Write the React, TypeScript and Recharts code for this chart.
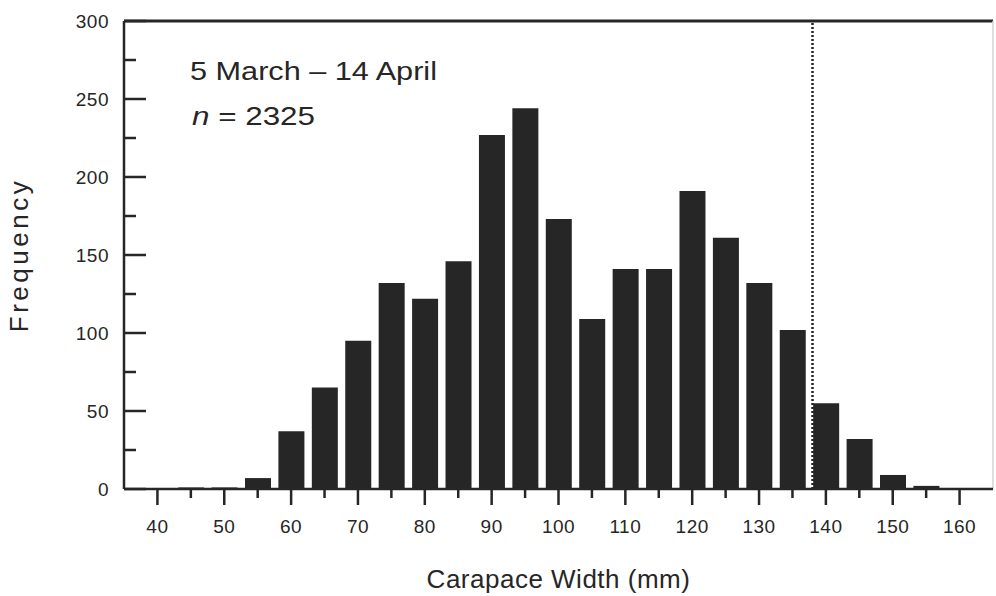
import React from 'react';
import { BarChart, Bar, XAxis, YAxis, ReferenceLine } from 'recharts';

document.body.style.margin = '0';

// carapace width bins (mm) and counts
const widths = [40, 45, 50, 55, 60, 65, 70, 75, 80, 85, 90, 95, 100, 105, 110, 115, 120, 125, 130, 135, 140, 145, 150, 155, 160];
const counts = [0, 1, 1, 7, 37, 65, 95, 132, 122, 146, 227, 244, 173, 109, 141, 141, 191, 161, 132, 102, 55, 32, 9, 2, 0];

const xTicks = [40, 45, 50, 55, 60, 65, 70, 75, 80, 85, 90, 95, 100, 105, 110, 115, 120, 125, 130, 135, 140, 145, 150, 155, 160];
const yTicks = [0, 25, 50, 75, 100, 125, 150, 175, 200, 225, 250, 275, 300];

const cutoff = 138;
const periodLabel = '5 March – 14 April';
const sampleSize = '2325';

const data = widths.map((w, i) => ({ w, count: counts[i] }));

const FONT = '"Liberation Sans", Arial, Helvetica, sans-serif';
const INK = '#262626';

const XTick = (props: any) => {
  const { x, y, payload } = props;
  const major = payload.value % 10 === 0;
  return (
    <g>
      <line x1={x} x2={x} y1={y} y2={y + (major ? 16 : 9)} stroke={INK} strokeWidth={2.5} />
      {major && (
        <text x={x} y={y + 44} textAnchor="middle" fontFamily={FONT} fontSize={19} letterSpacing={0.5} fill={INK}>
          {payload.value}
        </text>
      )}
    </g>
  );
};

const YTick = (props: any) => {
  const { x, y, payload } = props;
  const major = payload.value % 50 === 0;
  return (
    <g>
      <line x1={x} x2={x + (major ? 22 : 12)} y1={y} y2={y} stroke={INK} strokeWidth={2.5} />
      {major && (
        <text x={x - 15} y={y + 7} textAnchor="end" fontFamily={FONT} fontSize={19} letterSpacing={0.5} fill={INK}>
          {payload.value}
        </text>
      )}
    </g>
  );
};

export default function App() {
  return (
    <div style={{ position: 'relative', width: 996, height: 596, background: '#fff' }}>
      <BarChart width={996} height={596} data={data} margin={{ top: 21, right: 3, bottom: 0, left: 0 }}>
        <XAxis
          dataKey="w"
          type="number"
          domain={[35, 165]}
          ticks={xTicks}
          interval={0}
          height={107}
          tickSize={0}
          tickMargin={0}
          tick={<XTick />}
          axisLine={{ stroke: INK, strokeWidth: 2.5 }}
          label={{
            content: (p: any) => (
              <text
                x={p.viewBox.x + p.viewBox.width / 2}
                y={p.viewBox.y + 99}
                textAnchor="middle"
                fontFamily={FONT}
                fontSize={26}
                letterSpacing={0.5}
                fill={INK}
              >
                Carapace Width (mm)
              </text>
            ),
          }}
        />
        <YAxis
          type="number"
          domain={[0, 300]}
          ticks={yTicks}
          interval={0}
          width={124}
          tickSize={0}
          tickMargin={0}
          tick={<YTick />}
          axisLine={{ stroke: INK, strokeWidth: 2.5 }}
          label={{
            content: (p: any) => {
              const cx = p.viewBox.x + 28;
              const cy = p.viewBox.y + p.viewBox.height / 2;
              return (
                <text
                  x={cx}
                  y={cy}
                  transform={`rotate(-90 ${cx} ${cy})`}
                  textAnchor="middle"
                  fontFamily={FONT}
                  fontSize={26}
                  letterSpacing={3.5}
                  fill={INK}
                >
                  Frequency
                </text>
              );
            },
          }}
        />
        <ReferenceLine y={300} stroke={INK} strokeWidth={3} />
        <ReferenceLine x={165} stroke="#d4d4d4" strokeWidth={1.5} />
        <Bar dataKey="count" fill="#262626" barSize={26} isAnimationActive={false} />
        <ReferenceLine x={cutoff} stroke="#222" strokeWidth={2.5} strokeDasharray="2 2" />
      </BarChart>
      <svg width={996} height={596} style={{ position: 'absolute', left: 0, top: 0, pointerEvents: 'none' }}>
        <text x={190} y={80} fontFamily={FONT} fontSize={25} textLength={247} lengthAdjust="spacingAndGlyphs" fill={INK}>
          {periodLabel}
        </text>
        <text x={192} y={125} fontFamily={FONT} fontSize={25} textLength={123} lengthAdjust="spacingAndGlyphs" fill={INK}>
          <tspan fontStyle="italic">n</tspan> = {sampleSize}
        </text>
      </svg>
    </div>
  );
}
